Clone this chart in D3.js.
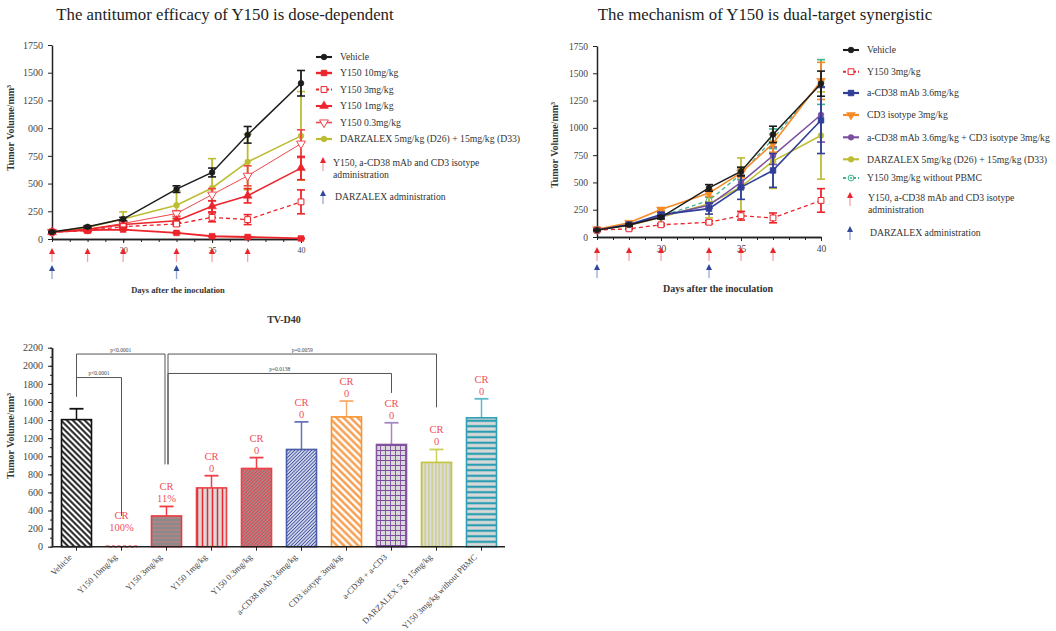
<!DOCTYPE html>
<html>
<head>
<meta charset="utf-8">
<script src="https://d3js.org/d3.v7.min.js"></script>
<style>
  body { margin: 0; background: #fff; }
  svg text { font-family: "Liberation Serif", "Times New Roman", serif !important; }
</style>
</head>
<body>
<svg id="fig" width="1056" height="631"></svg>
<script>
// ---------- data (tumor volume, mm3) ----------
var days = [26, 28, 30, 33, 35, 37, 40];
var redArrowDays = [26, 28, 30, 33, 35, 37];
var blueArrowDays = [26, 33];
var xTickDays = [30, 35, 40];
var lineYTicks = [0, 250, 500, 750, 1000, 1250, 1500, 1750];
var leftYLabels = ['0', '250', '500', '750', '000', '1250', '1500', '1750'];
var rightYLabels = ['0', '250', '500', '750', '1000', '1250', '1500', '1750'];

var vehicle    = [63, 110, 180, 450, 600, 940, 1405];
var vehicleErr = [5, 10, 15, 30, 40, 75, 115];
var y150_10    = [63, 80, 85, 55, 25, 18, 5];
var y150_10Err = [3, 5, 5, 5, 4, 4, 3];
var y150_3     = [63, 75, 112, 135, 195, 175, 335];
var y150_3Err  = [3, 6, 10, 15, 40, 45, 108];
var y150_1     = [63, 85, 130, 165, 295, 390, 640];
var y150_1Err  = [3, 6, 12, 22, 50, 65, 105];
var y150_03    = [63, 90, 140, 230, 400, 570, 860];
var y150_03Err = [3, 8, 15, 25, 55, 90, 125];
var darz       = [63, 105, 180, 305, 460, 695, 930];
var darzErr    = [5, 15, 65, 130, 265, 250, 400];
var acd38      = [63, 115, 205, 260, 455, 610, 1070];
var acd38Err   = [3, 10, 20, 50, 110, 155, 305];
var cd3        = [70, 130, 252, 402, 588, 857, 1430];
var cd3Err     = [5, 10, 15, 30, 45, 80, 170];
var combo      = [63, 110, 192, 290, 500, 745, 1120];
var comboErr   = [3, 8, 15, 25, 50, 80, 250];
var noPbmc     = [63, 110, 190, 335, 575, 900, 1420];
var noPbmcErr  = [3, 8, 15, 30, 50, 90, 205];

// bar chart, day 40
var barCats = ['Vehicle', 'Y150 10mg/kg', 'Y150 3mg/kg', 'Y150 1mg/kg', 'Y150 0.3mg/kg',
  'a-CD38 mAb 3.6mg/kg', 'CD3 isotype 3mg/kg', 'a-CD38 + a-CD3', 'DARZALEX 5 & 15mg/kg',
  'Y150 3mg/kg without PBMC'];
var barVals = [1405, 5, 340, 650, 865, 1075, 1435, 1130, 932, 1425];
var barErr  = [120, 0, 105, 135, 120, 305, 175, 240, 143, 210];
var crVals  = ['', '100%', '11%', '0', '0', '0', '0', '0', '0', '0'];
var barYTicks = d3.range(0, 2201, 200);
var brackets = [
  { a: 'Vehicle', b: 'Y150 3mg/kg', p: 'p<0.0001', top: 2130, aEnd: 1660, bEnd: 910 },
  { a: 'Vehicle', b: 'Y150 10mg/kg', p: 'p<0.0001', top: 1870, aEnd: 1660, bEnd: 340 },
  { a: 'Y150 3mg/kg', b: 'DARZALEX 5 & 15mg/kg', p: 'p=0.0059', top: 2130, aEnd: 910, bEnd: 1540 },
  { a: 'Y150 3mg/kg', b: 'a-CD38 + a-CD3', p: 'p=0.0138', top: 1915, aEnd: 910, bEnd: 1700 }
];

// ---------- setup ----------
var svg = d3.select('#fig');
svg.append('rect').attr('width', 1056).attr('height', 631).attr('fill', '#fff');
var defs = svg.append('defs');

var C = { black: '#1c1c1c', red: '#ec242b', red2: '#f0474d', olive: '#bdbd33', blue: '#2f3f99',
  orange: '#f58a26', purple: '#7b4ea0', teal: '#3cb58b' };
var legendFont = 9.7;

function symbolPath(shape, size) {
  var t = { circle: d3.symbolCircle, square: d3.symbolSquare, triUp: d3.symbolTriangle, triDown: d3.symbolTriangle }[shape];
  return d3.symbol().type(t).size(size)();
}

function marker(g, x, y, s) {
  var size = s.shape === 'circle' ? 26 : 34;
  g.append('path')
    .attr('d', symbolPath(s.shape, size))
    .attr('transform', 'translate(' + x + ',' + y + ')' + (s.shape === 'triDown' ? ' rotate(180)' : ''))
    .attr('fill', s.open ? '#fff' : s.color)
    .attr('stroke', s.color)
    .attr('stroke-width', s.open ? 1 : 0.5);
  if (s.dot) {
    g.append('circle').attr('cx', x).attr('cy', y).attr('r', 1).attr('fill', s.color);
  }
}

function arrow(g, x, y, head, shaft) {
  g.append('line').attr('x1', x).attr('x2', x).attr('y1', y + 5).attr('y2', y + 14)
    .attr('stroke', shaft).attr('stroke-width', 1.3);
  g.append('path')
    .attr('d', 'M' + (x - 3) + ',' + (y + 6) + 'L' + x + ',' + y + 'L' + (x + 3) + ',' + (y + 6) + 'Z')
    .attr('fill', head);
}

function styleAxis(sel, fs) {
  sel.select('.domain').attr('stroke', '#222').attr('stroke-width', 1.5);
  sel.selectAll('.tick line').attr('stroke', '#222').attr('stroke-width', 1);
  sel.selectAll('.tick text').attr('fill', '#444').attr('font-size', fs);
}

// ---------- line charts ----------
function lineChart(o) {
  var g = svg.append('g');
  var x = d3.scaleLinear().domain([26, 40]).range([o.left, o.right]);
  var y = d3.scaleLinear().domain([0, 1750]).range([o.bottom, o.top]);

  g.append('text').attr('x', o.titleX).attr('y', 20).attr('text-anchor', 'middle')
    .attr('font-size', 16.8).attr('fill', '#222').text(o.title);

  var ya = g.append('g').attr('transform', 'translate(' + o.left + ',0)')
    .call(d3.axisLeft(y).tickValues(lineYTicks).tickFormat(function (d, i) { return o.yLabels[i]; })
      .tickSize(4).tickPadding(5).tickSizeOuter(0));
  styleAxis(ya, o.yFont);

  var xm = g.append('g').attr('transform', 'translate(0,' + o.bottom + ')')
    .call(d3.axisBottom(x).tickValues(d3.range(26, 41)).tickFormat('').tickSize(3).tickSizeOuter(0));
  styleAxis(xm, 8);
  var xa = g.append('g').attr('transform', 'translate(0,' + o.bottom + ')')
    .call(d3.axisBottom(x).tickValues(xTickDays).tickFormat(d3.format('d')).tickSize(4).tickPadding(4).tickSizeOuter(0));
  styleAxis(xa, o.xFont);

  g.append('text')
    .attr('transform', 'translate(' + o.yTitleX + ',' + o.yTitleY + ') rotate(-90)')
    .attr('text-anchor', 'middle').attr('font-size', 10).attr('font-weight', 'bold').attr('fill', '#333')
    .text('Tumor Volume/mm³');
  g.append('text').attr('x', o.xTitleX).attr('y', o.xTitleY).attr('text-anchor', 'middle')
    .attr('font-size', o.xTitleFont).attr('font-weight', 'bold').attr('fill', '#333')
    .text('Days after the inoculation');

  // dosing arrows
  redArrowDays.forEach(function (d) { arrow(g, x(d), o.redArrowY, C.red, '#f5a3a7'); });
  blueArrowDays.forEach(function (d) { arrow(g, x(d), o.redArrowY + 17, '#2f4a9b', '#98a6d4'); });

  // series (drawn bottom-up so the first listed ends on top)
  var line = d3.line().x(function (d) { return x(d[0]); }).y(function (d) { return y(d[1]); });
  o.series.slice().reverse().forEach(function (s) {
    var sg = g.append('g');
    var pts = days.map(function (d, i) { return [d, s.v[i], s.e[i]]; });
    pts.forEach(function (p) {
      var cx = x(p[0]);
      var lo = y(Math.max(0, p[1] - p[2])), hi = y(p[1] + p[2]);
      sg.append('line').attr('x1', cx).attr('x2', cx).attr('y1', lo).attr('y2', hi)
        .attr('stroke', s.color).attr('stroke-width', 1.8);
      [lo, hi].forEach(function (yy) {
        sg.append('line').attr('x1', cx - 4).attr('x2', cx + 4).attr('y1', yy).attr('y2', yy)
          .attr('stroke', s.color).attr('stroke-width', 1.6);
      });
    });
    sg.append('path').datum(pts).attr('d', line).attr('fill', 'none')
      .attr('stroke', s.color).attr('stroke-width', s.w).attr('stroke-dasharray', s.dash || null);
    pts.forEach(function (p) { marker(sg, x(p[0]), y(p[1]), s); });
  });

  // legend
  var lg = g.append('g');
  o.series.forEach(function (s, i) {
    var yy = o.legendY[i];
    lg.append('line').attr('x1', o.legendX).attr('x2', o.legendX + 16).attr('y1', yy).attr('y2', yy)
      .attr('stroke', s.color).attr('stroke-width', s.w + 0.6).attr('stroke-dasharray', s.dash ? '3,2' : null);
    marker(lg, o.legendX + 8, yy, s);
    lg.append('text').attr('x', o.legendX + 24).attr('y', yy).attr('dy', '0.35em')
      .attr('font-size', legendFont).attr('fill', '#333').text(s.name);
  });
  var ay = o.arrowLegendY;
  arrow(lg, o.legendX + 7, ay - 6, C.red, '#f5a3a7');
  lg.append('text').attr('x', o.arrowTextX).attr('y', ay).attr('dy', '0.35em').attr('font-size', legendFont)
    .attr('fill', '#333').text('Y150, a-CD38 mAb and CD3 isotype');
  lg.append('text').attr('x', o.arrowTextX).attr('y', ay + 11.5).attr('dy', '0.35em').attr('font-size', legendFont)
    .attr('fill', '#333').text('administration');
  arrow(lg, o.legendX + 7, o.blueLegendY - 7, '#2f4a9b', '#98a6d4');
  lg.append('text').attr('x', o.arrowTextX + 2).attr('y', o.blueLegendY).attr('dy', '0.35em').attr('font-size', legendFont)
    .attr('fill', '#333').text('DARZALEX administration');
}

lineChart({
  title: 'The antitumor efficacy of Y150 is dose-dependent', titleX: 225,
  left: 52, right: 301, top: 45, bottom: 239, yLabels: leftYLabels, yFont: 10, xFont: 8,
  yTitleX: 14, yTitleY: 128, xTitleX: 178, xTitleY: 293, xTitleFont: 8.5, redArrowY: 248,
  legendX: 316, legendY: [57, 73, 89.5, 106, 122.5, 139], arrowLegendY: 163, arrowTextX: 333,
  blueLegendY: 197,
  series: [
    { name: 'Vehicle', v: vehicle, e: vehicleErr, color: C.black, shape: 'circle', w: 1.5 },
    { name: 'Y150 10mg/kg', v: y150_10, e: y150_10Err, color: C.red, shape: 'square', w: 1.8 },
    { name: 'Y150 3mg/kg', v: y150_3, e: y150_3Err, color: C.red, shape: 'square', open: true, dash: '4,3', w: 1.3 },
    { name: 'Y150 1mg/kg', v: y150_1, e: y150_1Err, color: C.red, shape: 'triUp', w: 1.5 },
    { name: 'Y150 0.3mg/kg', v: y150_03, e: y150_03Err, color: C.red2, shape: 'triDown', open: true, w: 1 },
    { name: 'DARZALEX 5mg/kg (D26) + 15mg/kg (D33)', v: darz, e: darzErr, color: C.olive, shape: 'circle', w: 1.6 }
  ]
});

lineChart({
  title: 'The mechanism of Y150 is dual-target synergistic', titleX: 765,
  left: 597, right: 821, top: 46, bottom: 237, yLabels: rightYLabels, yFont: 9.5, xFont: 9.5,
  yTitleX: 558, yTitleY: 145, xTitleX: 718, xTitleY: 292, xTitleFont: 10, redArrowY: 247,
  legendX: 843, legendY: [50, 71.7, 93, 115, 137.3, 159.3, 178], arrowLegendY: 198, arrowTextX: 868,
  blueLegendY: 233,
  series: [
    { name: 'Vehicle', v: vehicle, e: vehicleErr, color: C.black, shape: 'circle', w: 1.5 },
    { name: 'Y150 3mg/kg', v: y150_3, e: y150_3Err, color: C.red, shape: 'square', open: true, dash: '4,3', w: 1.3 },
    { name: 'a-CD38 mAb 3.6mg/kg', v: acd38, e: acd38Err, color: C.blue, shape: 'square', w: 1.6 },
    { name: 'CD3 isotype 3mg/kg', v: cd3, e: cd3Err, color: C.orange, shape: 'triDown', w: 1.6 },
    { name: 'a-CD38 mAb 3.6mg/kg + CD3 isotype 3mg/kg', v: combo, e: comboErr, color: C.purple, shape: 'circle', w: 1.5 },
    { name: 'DARZALEX 5mg/kg (D26) + 15mg/kg (D33)', v: darz, e: darzErr, color: C.olive, shape: 'circle', w: 1.5 },
    { name: 'Y150 3mg/kg without PBMC', v: noPbmc, e: noPbmcErr, color: C.teal, shape: 'circle', open: true, dot: true, dash: '4,3', w: 1.3 }
  ]
});

// ---------- bar chart patterns ----------
function stripes(id, period, angle, bg, color, width) {
  var p = defs.append('pattern').attr('id', id).attr('patternUnits', 'userSpaceOnUse')
    .attr('width', period).attr('height', period)
    .attr('patternTransform', angle ? 'rotate(' + angle + ')' : null);
  p.append('rect').attr('width', period).attr('height', period).attr('fill', bg);
  p.append('line').attr('x1', period / 2).attr('x2', period / 2).attr('y1', 0).attr('y2', period)
    .attr('stroke', color).attr('stroke-width', width);
}
function grid(id, period, bg, color, width) {
  var p = defs.append('pattern').attr('id', id).attr('patternUnits', 'userSpaceOnUse')
    .attr('width', period).attr('height', period);
  p.append('rect').attr('width', period).attr('height', period).attr('fill', bg);
  p.append('path').attr('d', 'M0,0H' + period + 'M0,0V' + period).attr('stroke', color).attr('stroke-width', width);
}
stripes('pVeh', 4.2, -45, '#fff', '#111', 1.9);
stripes('p3', 4, 90, '#8a8a8a', '#c98080', 1);
stripes('p1', 5, 0, '#d9d9d9', C.red, 1.5);
stripes('p03', 2.4, 45, '#999', '#e8414a', 1.2);
stripes('pCd38', 2.4, 45, '#eef0f8', '#3d4fa0', 1.1);
stripes('pCd3', 5, -45, '#fff', '#f6923a', 2.2);
grid('pCombo', 5, '#d9d9d9', '#7f4b9f', 1.8);
stripes('pDarz', 3.5, 0, '#dcdcdc', '#c2c23a', 0.8);
stripes('pNo', 5.5, 90, '#d9d9d9', '#2a9db2', 2.2);

var barStyle = [
  { fill: 'url(#pVeh)', stroke: '#111', err: '#111' },
  { fill: '#fbd0d2', stroke: C.red, err: C.red },
  { fill: 'url(#p3)', stroke: '#ee3a40', err: '#ee3a40' },
  { fill: 'url(#p1)', stroke: '#ef4048', err: '#ef4048' },
  { fill: 'url(#p03)', stroke: '#ef4048', err: '#ef4048' },
  { fill: 'url(#pCd38)', stroke: '#4a5ca8', err: '#6576b8' },
  { fill: 'url(#pCd3)', stroke: '#f7952f', err: '#f9ac6a' },
  { fill: 'url(#pCombo)', stroke: '#84559f', err: '#a787bf' },
  { fill: 'url(#pDarz)', stroke: '#c4c43c', err: '#cfcf5c' },
  { fill: 'url(#pNo)', stroke: '#2fa0b3', err: '#5fb9c8' }
];

// ---------- bar chart ----------
var bg = svg.append('g');
var bx = d3.scalePoint().domain(barCats).range([54, 504]).padding(0.5);
var by = d3.scaleLinear().domain([0, 2200]).range([546.7, 347.7]);
var bw = 30;

bg.append('text').attr('x', 284).attr('y', 322.5).attr('text-anchor', 'middle')
  .attr('font-size', 10).attr('font-weight', 'bold').attr('fill', '#333').text('TV-D40');

var bya = bg.append('g').attr('transform', 'translate(52,0)')
  .call(d3.axisLeft(by).tickValues(d3.range(0, 2201, 100)).tickFormat('').tickSize(2).tickSizeOuter(0));
styleAxis(bya, 10);
var byb = bg.append('g').attr('transform', 'translate(52,0)')
  .call(d3.axisLeft(by).tickValues(barYTicks).tickFormat(d3.format('d')).tickSize(4).tickPadding(5).tickSizeOuter(0));
styleAxis(byb, 10);
bg.append('text').attr('transform', 'translate(14,436) rotate(-90)').attr('text-anchor', 'middle')
  .attr('font-size', 10).attr('font-weight', 'bold').attr('fill', '#333').text('Tumor Volume/mm³');

// bars
barCats.forEach(function (c, i) {
  var cx = bx(c), st = barStyle[i], v = barVals[i], e = barErr[i];
  if (e > 0) {
    bg.append('line').attr('x1', cx).attr('x2', cx).attr('y1', by(v)).attr('y2', by(v + e))
      .attr('stroke', st.err).attr('stroke-width', 1.5);
    bg.append('line').attr('x1', cx - 7).attr('x2', cx + 7).attr('y1', by(v + e)).attr('y2', by(v + e))
      .attr('stroke', st.err).attr('stroke-width', 1.8);
  }
  bg.append('rect').attr('x', cx - bw / 2).attr('y', by(v)).attr('width', bw)
    .attr('height', by(0) - by(v)).attr('fill', st.fill).attr('stroke', st.stroke)
    .attr('stroke-width', 1.6).attr('stroke-dasharray', v < 20 ? '3,2.5' : null);
  if (crVals[i]) {
    var top = by(Math.max(v + e, 130));
    bg.append('text').attr('x', cx).attr('y', top - 16).attr('text-anchor', 'middle')
      .attr('font-size', 10.5).attr('fill', '#f0505a').text('CR');
    bg.append('text').attr('x', cx).attr('y', top - 4).attr('text-anchor', 'middle')
      .attr('font-size', 10.5).attr('fill', '#f0505a').text(crVals[i]);
  }
});

// x axis
bg.append('line').attr('x1', 52).attr('x2', 505).attr('y1', by(0)).attr('y2', by(0))
  .attr('stroke', '#222').attr('stroke-width', 1.5);
barCats.forEach(function (c) {
  var cx = bx(c);
  bg.append('line').attr('x1', cx).attr('x2', cx).attr('y1', by(0)).attr('y2', by(0) + 4)
    .attr('stroke', '#222').attr('stroke-width', 1);
  bg.append('text').attr('transform', 'translate(' + (cx - 4) + ',' + (by(0) + 11) + ') rotate(-45)')
    .attr('text-anchor', 'end').attr('font-size', 8.6).attr('fill', '#444').text(c);
});

// significance brackets
brackets.forEach(function (b) {
  var xa = bx(b.a) + (b.a === 'Y150 3mg/kg' ? 1.5 : 0);
  var xb = bx(b.b) - (b.b === 'Y150 3mg/kg' ? 1.5 : 0);
  var yt = by(b.top);
  bg.append('path')
    .attr('d', 'M' + xa + ',' + by(b.aEnd) + 'V' + yt + 'H' + xb + 'V' + by(b.bEnd))
    .attr('fill', 'none').attr('stroke', '#555').attr('stroke-width', 1);
  bg.append('text').attr('x', (xa + xb) / 2).attr('y', yt - 2.5).attr('text-anchor', 'middle')
    .attr('font-size', 5.5).attr('fill', '#444').text(b.p);
});
</script>
</body>
</html>
